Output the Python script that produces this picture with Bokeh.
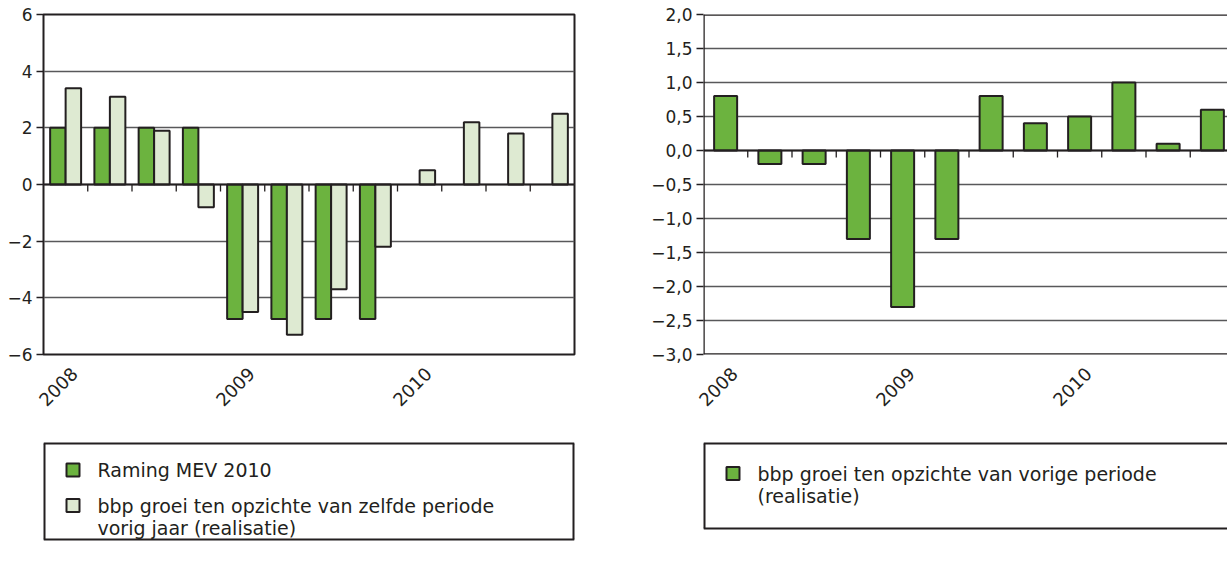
import math
from bokeh.plotting import figure
from bokeh.models import Range1d, FixedTicker, Span, ColumnDataSource
from bokeh.layouts import row, column
from bokeh.embed import file_html
from bokeh.resources import INLINE
from bokeh.core.properties import value

# ---------------- data ----------------
years = ["2008", "2009", "2010"]
quarters = ["2008-K1", "2008-K2", "2008-K3", "2008-K4",
            "2009-K1", "2009-K2", "2009-K3", "2009-K4",
            "2010-K1", "2010-K2", "2010-K3", "2010-K4"]
# left panel: growth vs. same period previous year (%)
raming_mev_2010 = [2.0, 2.0, 2.0, 2.0, -4.75, -4.75, -4.75, -4.75,
                   float("nan"), float("nan"), float("nan"), float("nan")]
groei_zelfde_periode = [3.4, 3.1, 1.9, -0.8, -4.5, -5.3, -3.7, -2.2,
                        0.5, 2.2, 1.8, 2.5]
# right panel: growth vs. previous period (%)
groei_vorige_periode = [0.8, -0.2, -0.2, -1.3, -2.3, -1.3, 0.8, 0.4,
                        0.5, 1.0, 0.1, 0.6]

left_ticks = [-6, -4, -2, 0, 2, 4, 6]
left_tick_labels = ["\u22126", "\u22124", "\u22122", "0", "2", "4", "6"]
right_ticks = [-3.0, -2.5, -2.0, -1.5, -1.0, -0.5, 0.0, 0.5, 1.0, 1.5, 2.0]
right_tick_labels = ["\u22123,0", "\u22122,5", "\u22122,0", "\u22121,5", "\u22121,0",
                     "\u22120,5", "0,0", "0,5", "1,0", "1,5", "2,0"]

legend_left_labels = ["Raming MEV 2010",
                      "bbp groei ten opzichte van zelfde periode\nvorig jaar (realisatie)"]
legend_right_labels = ["bbp groei ten opzichte van vorige periode\n(realisatie)"]

# ---------------- style ----------------
FONT = "DejaVu Sans"
INK = "#231f20"
GRID = "#58585a"
GREEN = "#6cb33f"
LIGHT = "#deead2"

n = len(quarters)
centers = [i + 0.5 for i in range(n)]
boundaries = [float(i) for i in range(1, n)]
# year label anchors: a little right of the first quarter's centre
year_pos = [quarters.index(y + "-K1") + 0.7 for y in years]


def style_common(p, ticks, tick_labels):
    p.xgrid.visible = False
    p.ygrid.ticker = FixedTicker(ticks=ticks)
    p.ygrid.grid_line_color = GRID
    p.ygrid.grid_line_width = 1.3
    ya = p.yaxis[0]
    ya.ticker = FixedTicker(ticks=ticks)
    ya.major_label_overrides = {t: l for t, l in zip(ticks, tick_labels)}
    ya.axis_line_color = None
    ya.major_tick_in = 0
    ya.major_tick_out = 7
    ya.major_tick_line_color = INK
    ya.major_tick_line_width = 1.3
    ya.minor_tick_line_color = None
    ya.major_label_text_font = FONT
    ya.major_label_text_font_size = "17px"
    ya.major_label_text_color = INK
    ya.major_label_standoff = 4
    xa = p.xaxis[0]
    xa.ticker = FixedTicker(ticks=year_pos)
    xa.major_label_overrides = {t: y for t, y in zip(year_pos, years)}
    xa.axis_line_color = None
    xa.major_tick_line_color = None
    xa.minor_tick_line_color = None
    xa.major_label_orientation = math.pi / 4
    xa.major_label_text_font = FONT
    xa.major_label_text_font_size = "18px"
    xa.major_label_text_color = INK
    xa.major_label_standoff = 10
    p.background_fill_color = "white"
    p.border_fill_color = "white"


# ---------------- left chart ----------------
pL = figure(width=600, height=430, x_range=Range1d(0, n), y_range=Range1d(-6, 6),
            output_backend="svg", toolbar_location=None,
            min_border_left=43, min_border_right=26, min_border_top=14,
            min_border_bottom=76)
style_common(pL, left_ticks, left_tick_labels)
pL.outline_line_color = INK
pL.outline_line_width = 2
pL.outline_line_alpha = 1

srcL = ColumnDataSource(dict(
    xg=[c - 0.175 for c in centers], xl=[c + 0.175 for c in centers],
    raming=raming_mev_2010, groei=groei_zelfde_periode))
pL.vbar(x="xg", top="raming", bottom=0, width=0.35, source=srcL,
        fill_color=GREEN, line_color=INK, line_width=2)
pL.vbar(x="xl", top="groei", bottom=0, width=0.35, source=srcL,
        fill_color=LIGHT, line_color=INK, line_width=2)
tick_len_L = 7 / (340 / 12)
pL.segment(x0=boundaries, y0=[0] * len(boundaries), x1=boundaries,
           y1=[-tick_len_L] * len(boundaries), line_color=INK, line_width=1.3)
pL.add_layout(Span(location=0, dimension="width", line_color=INK, line_width=2.2))

# ---------------- right chart ----------------
frame_w_R = 524
x_end_R = frame_w_R / (531 / n)
pR = figure(width=627, height=430, x_range=Range1d(0, x_end_R), y_range=Range1d(-3, 2),
            output_backend="svg", toolbar_location=None,
            min_border_left=103, min_border_right=0, min_border_top=14,
            min_border_bottom=76)
style_common(pR, right_ticks, right_tick_labels)
pR.outline_line_color = None
srcR = ColumnDataSource(dict(x=centers, groei=groei_vorige_periode))
pR.vbar(x="x", top="groei", bottom=0, width=0.52, source=srcR,
        fill_color=GREEN, line_color=INK, line_width=2)
tick_len_R = 7 / (340 / 5)
pR.segment(x0=boundaries, y0=[0] * len(boundaries), x1=boundaries,
           y1=[-tick_len_R] * len(boundaries), line_color=INK, line_width=1.3)
pR.add_layout(Span(location=0, dimension="width", line_color=INK, line_width=2.2))
pR.add_layout(Span(location=2, dimension="width", line_color=INK, line_width=2.5))
pR.add_layout(Span(location=-3, dimension="width", line_color=INK, line_width=2.5))
pR.add_layout(Span(location=0, dimension="height", line_color=INK, line_width=2.5))


# ---------------- legends (boxes below the charts) ----------------
LINE_H = 22
EXTRA = 8  # frame reaches a little below the drawn box so descenders are not clipped
PAD = 3    # frame starts a little above the box so its top border is not clipped


def legend_fig(width, min_left, min_right, box_w, box_h, bottom, right_side):
    f = figure(width=width, height=13 + box_h + EXTRA + bottom,
               x_range=Range1d(0, box_w),
               y_range=Range1d(box_h + EXTRA, -PAD), x_axis_location=None,
               y_axis_location=None, output_backend="svg", toolbar_location=None,
               min_border_left=min_left, min_border_right=min_right,
               min_border_top=13 - PAD, min_border_bottom=bottom)
    f.xgrid.visible = False
    f.ygrid.visible = False
    f.outline_line_color = None
    f.background_fill_color = "white"
    f.border_fill_color = "white"
    # box: horizontal sides inside the frame, vertical sides on the frame edge
    f.segment(x0=[0, 0], y0=[0, box_h], x1=[box_w, box_w], y1=[0, box_h],
              line_color=INK, line_width=2)
    vx = [0, box_w] if right_side else [0]
    f.segment(x0=vx, y0=[0] * len(vx), x1=vx, y1=[box_h] * len(vx),
              line_color=INK, line_width=4)
    return f


def draw_legend(f, labels, colors, item_y):
    f.rect(x=[29.5] * len(labels), y=item_y, width=13, height=13,
           width_units="screen", height_units="screen",
           fill_color=colors, line_color=INK, line_width=2)
    xs, ys, txt = [], [], []
    for lab, yy in zip(labels, item_y):
        for k, line in enumerate(lab.split("\n")):
            xs.append(54)
            ys.append(yy + k * LINE_H)
            txt.append(line)
    f.text(x=xs, y=ys, text=txt, text_baseline="middle", text_align="left",
           text_font=value(FONT), text_font_size="19px", text_color=INK)


lgL = legend_fig(600, 43, 26, 531, 96, 4, True)
draw_legend(lgL, legend_left_labels, [GREEN, LIGHT], [26.5, 62])

lgR = legend_fig(627, 103, 0, frame_w_R, 85, 15, False)
draw_legend(lgR, legend_right_labels, [GREEN], [30])

layout = row(column(pL, lgL), column(pR, lgR))
open("out.html", "w").write(file_html(layout, INLINE))
